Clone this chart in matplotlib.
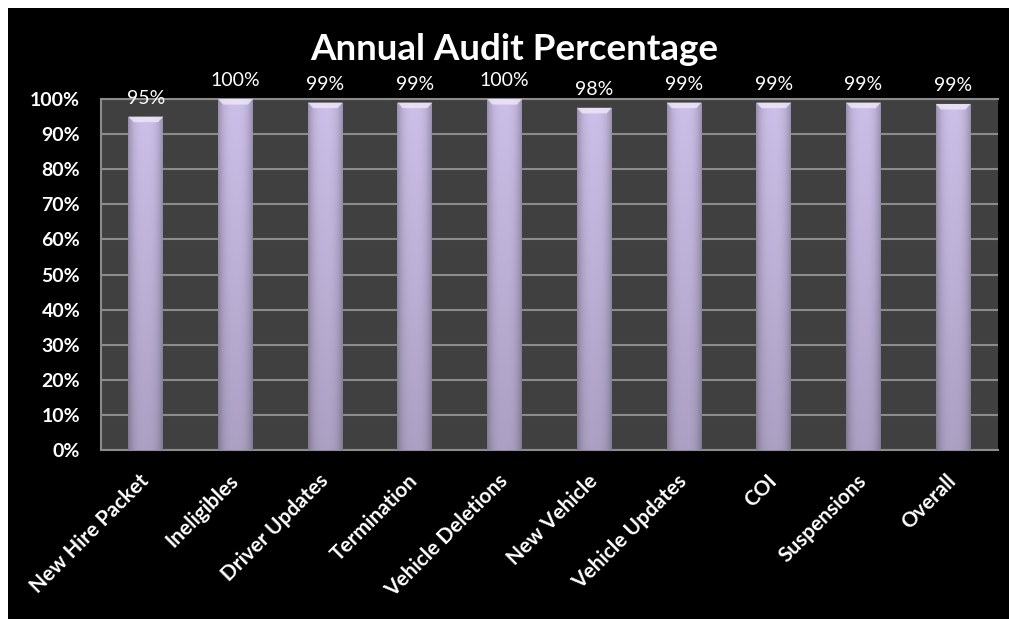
import matplotlib.pyplot as plt
import numpy as np
from matplotlib.lines import Line2D
from matplotlib.patches import Rectangle

categories = ['New Hire Packet', 'Ineligibles', 'Driver Updates', 'Termination',
              'Vehicle Deletions', 'New Vehicle', 'Vehicle Updates', 'COI',
              'Suspensions', 'Overall']
values = [95, 100, 99, 99, 100, 97.5, 99, 99, 99, 98.6]
yticks = [0, 10, 20, 30, 40, 50, 60, 70, 80, 90, 100]

plt.rcParams['font.family'] = ['Lato', 'DejaVu Sans']

W, H = 1009, 619
fig = plt.figure(figsize=(W / 100, H / 100), dpi=100, facecolor='white')

# spreadsheet grid seen around the chart
for xp in [15, 120, 238, 355, 470, 590, 705, 822, 940]:
    fig.lines.append(Line2D([xp / W, xp / W], [1 - 8 / H, 1], color='#d0d0d0', lw=1, zorder=-5))
for yp in range(20, H, 32):
    fig.lines.append(Line2D([0, 8 / W], [1 - yp / H, 1 - yp / H], color='#d0d0d0', lw=1, zorder=-5))

# black chart area
fig.patches.append(Rectangle((8 / W, 0), 1 - 8 / W, 1 - 8 / H, transform=fig.transFigure,
                             facecolor='black', edgecolor='none', zorder=-4))

ax = fig.add_axes([101 / W, 1 - 450 / H, 897 / W, 351 / H])
ax.set_zorder(2)
ax.set_facecolor('#404040')

x = np.arange(len(categories))
bars = ax.bar(x, values, width=0.39, color='#b3a6c8', zorder=3)

# shaded bars: lighter at top, darker at the sides
gx = np.linspace(-1, 1, 60)
gy = np.linspace(0, 1, 200)
side = 1 - 0.25 * np.abs(gx) ** 3
vert = 0.84 + 0.16 * gy
shade = np.outer(vert, side)
base = np.array([0.80, 0.75, 0.91])
img = np.clip(shade[:, :, None] * base[None, None, :], 0, 1)
for b in bars:
    x0, w, h = b.get_x(), b.get_width(), b.get_height()
    im = ax.imshow(img, extent=[x0, x0 + w, 0, h], origin='lower', aspect='auto',
                   zorder=3, interpolation='bilinear')
    im.set_clip_path(b)
    b.set_facecolor('none')
    # bevel highlight at the top of each bar
    ax.fill([x0, x0 + w, x0 + w * 0.85, x0 + w * 0.15], [h, h, h - 1.6, h - 1.6],
            color='#efe8fa', alpha=0.8, zorder=4, lw=0)
    ax.annotate(f'{h:.0f}%', (x0 + w / 2, h), xytext=(0, 7), textcoords='offset points',
                ha='center', va='bottom', color='white', fontsize=14, annotation_clip=False)

ax.set_xlim(-0.5, len(categories) - 0.5)
ax.set_ylim(0, 100)
ax.set_yticks(yticks)
ax.set_yticklabels([f'{t}%' for t in yticks], color='white', fontsize=14, fontweight='bold')
ax.set_xticks(x)
ax.set_xticklabels(categories, rotation=45, ha='right', va='center', rotation_mode='anchor',
                   color='white', fontsize=15, fontweight='bold')
ax.tick_params(axis='both', length=0)
ax.tick_params(axis='x', pad=20)
ax.tick_params(axis='y', pad=15)
ax.grid(axis='y', color='#8c8c8c', lw=1.5, zorder=1)
ax.set_axisbelow(True)
for s in ax.spines.values():
    s.set_color('#8c8c8c')
    s.set_linewidth(1.5)
ax.spines['right'].set_visible(False)

fig.text(514 / W, 1 - 49 / H, 'Annual Audit Percentage', ha='center', va='center',
         color='white', fontsize=26.5, fontweight='bold')

fig.savefig('out.png', dpi=100, facecolor='white')
